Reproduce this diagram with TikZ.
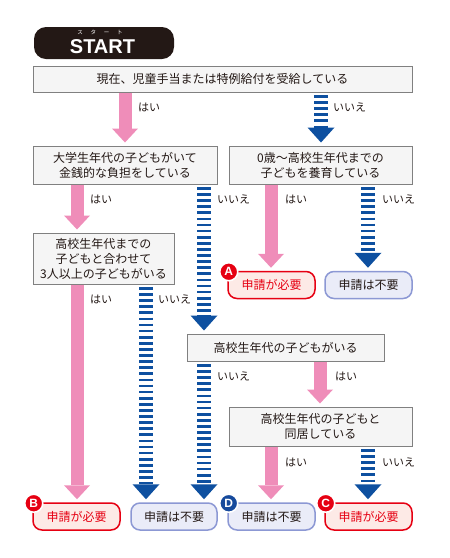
\documentclass[tikz,border=0pt]{standalone}
\usepackage{fontspec}
\setmainfont{Noto Sans CJK JP}
\newfontfamily\latinfont{Liberation Sans}
\usetikzlibrary{arrows.meta,calc}
\definecolor{pinkc}{RGB}{239,141,185}
\definecolor{bluec}{RGB}{14,80,160}
\definecolor{redc}{RGB}{230,0,18}
\definecolor{redfill}{RGB}{253,234,230}
\definecolor{lavb}{RGB}{140,152,212}
\definecolor{lavf}{RGB}{234,236,248}
\definecolor{boxb}{RGB}{128,128,128}
\definecolor{boxf}{RGB}{245,245,245}
\definecolor{txt}{RGB}{35,24,21}
\definecolor{startc}{RGB}{35,24,21}
\definecolor{badgeblue}{RGB}{22,74,156}
\tikzset{
  qbox/.style={draw=boxb, fill=boxf, line width=1pt, text=txt, align=center,
    inner sep=0pt, font=\fontsize{12}{15}\selectfont},
  needbox/.style={draw=redc, fill=redfill, line width=1.5pt, rounded corners=9pt,
    text=redc, inner sep=0pt, minimum width=87pt, minimum height=27pt,
    font=\fontsize{12}{14}\selectfont},
  notbox/.style={draw=lavb, fill=lavf, line width=1.5pt, rounded corners=9pt,
    text=txt, inner sep=0pt, minimum width=87pt, minimum height=27pt,
    font=\fontsize{12}{14}\selectfont},
  pinkarr/.style={draw=pinkc, line width=13pt, shorten >=3pt,
    -{Triangle[width=26pt,length=14pt,line width=0pt]}},
  bluearr/.style={draw=bluec, line width=13.5pt, dash pattern=on 2.7pt off 3.4pt,
    shorten <=2.5pt, shorten >=3pt,
    -{Triangle[width=27pt,length=15pt,line width=0pt]}},
  lab/.style={anchor=west, inner sep=0pt, text=txt, font=\fontsize{11}{13}\selectfont},
  badge/.style={circle, fill=#1, draw=white, line width=1.5pt, minimum size=18pt,
    inner sep=0pt, text=white, font=\latinfont\bfseries\fontsize{12}{12}\selectfont}
}
\begin{document}
\begin{tikzpicture}[x=1pt,y=-1pt]
\useasboundingbox (0,0) rectangle (450,558);
% start
\node[fill=startc, rounded corners=12pt, minimum width=140pt, minimum height=32pt, inner sep=0pt] (start) at (104,43) {};
\node[text=white, inner sep=0pt, font=\latinfont\bfseries\fontsize{20}{20}\selectfont] (startlab) at (102.5,46.3) {START};
\node[text=white, inner sep=0pt, font=\fontsize{5.5}{6}\selectfont] (ruby) at (100,32.5) {ス\hspace{7.7pt}タ\hspace{7.7pt}ー\hspace{7.7pt}ト};
% question boxes
\node[qbox, minimum width=379pt, minimum height=26pt] (q1) at (222.5,79) {現在、児童手当または特例給付を受給している};
\node[qbox, minimum width=184pt, minimum height=38pt] (q2) at (125,165) {大学生年代の子どもがいて\\金銭的な負担をしている};
\node[qbox, minimum width=183pt, minimum height=38pt] (q3) at (320.5,165) {0歳～高校生年代までの\\子どもを養育している};
\node[qbox, minimum width=141pt, minimum height=51pt] (q4) at (103.5,258.5) {高校生年代までの\\子どもと合わせて\\3人以上の子どもがいる};
\node[qbox, minimum width=197pt, minimum height=27pt] (q5) at (285.5,347.5) {高校生年代の子どもがいる};
\node[qbox, minimum width=183pt, minimum height=39pt] (q6) at (320.5,426.5) {高校生年代の子どもと\\同居している};
% results
\node[needbox] (rA) at (271.5,285) {申請が必要};
\node[notbox] (rN1) at (368.5,285) {申請は不要};
\node[needbox] (rB) at (76.5,516.5) {申請が必要};
\node[notbox, minimum width=86pt] (rN2) at (174,516.5) {申請は不要};
\node[notbox] (rD) at (271.5,516.5) {申請は不要};
\node[needbox] (rC) at (368.5,516.5) {申請が必要};
% badges
\node[badge=redc] (bA) at ($(rA.north west)+(1.5,1)$) {A};
\node[badge=redc] (bB) at ($(rB.north west)+(1.5,1)$) {B};
\node[badge=badgeblue] (bD) at ($(rD.north west)+(1.5,1)$) {D};
\node[badge=redc] (bC) at ($(rC.north west)+(1.5,1)$) {C};
% columns
\coordinate (x77) at (77,0);
\coordinate (x125) at (125,0);
\coordinate (x146) at (146,0);
\coordinate (x204) at (204,0);
\coordinate (x271) at (271,0);
\coordinate (x320) at (320,0);
\coordinate (x321) at (321,0);
\coordinate (x368) at (368,0);
% arrows
\draw[pinkarr] (q1.south -| x125) -- (q2.north -| x125);
\draw[bluearr] (q1.south -| x321) -- (q3.north -| x321);
\draw[pinkarr] (q2.south -| x77) -- (q4.north -| x77);
\draw[bluearr] (q2.south -| x204) -- (q5.north -| x204);
\draw[pinkarr] (q3.south -| x271) -- (rA.north -| x271);
\draw[bluearr] (q3.south -| x368) -- (rN1.north -| x368);
\draw[pinkarr] (q4.south -| x77) -- (rB.north -| x77);
\draw[bluearr] (q4.south -| x146) -- (rN2.north -| x146);
\draw[bluearr] (q5.south -| x204) -- (rN2.north -| x204);
\draw[pinkarr] (q5.south -| x320) -- (q6.north -| x320);
\draw[pinkarr] (q6.south -| x271) -- (rD.north -| x271);
\draw[bluearr] (q6.south -| x368) -- (rC.north -| x368);
% labels
\node[lab] (l1y) at ($(q1.south -| x125)+(13,14.5)$) {はい};
\node[lab] (l1n) at ($(q1.south -| x321)+(12,14.5)$) {いいえ};
\node[lab] (l2y) at ($(q2.south -| x77)+(13,14.5)$) {はい};
\node[lab] (l2n) at ($(q2.south -| x204)+(13,14.5)$) {いいえ};
\node[lab] (l3y) at ($(q3.south -| x271)+(14,14.5)$) {はい};
\node[lab] (l3n) at ($(q3.south -| x368)+(14,14.5)$) {いいえ};
\node[lab] (l4y) at ($(q4.south -| x77)+(13,14.5)$) {はい};
\node[lab] (l4n) at ($(q4.south -| x146)+(12,14.5)$) {いいえ};
\node[lab] (l5n) at ($(q5.south -| x204)+(13,14.5)$) {いいえ};
\node[lab] (l5y) at ($(q5.south -| x320)+(15,14.5)$) {はい};
\node[lab] (l6y) at ($(q6.south -| x271)+(14,15.5)$) {はい};
\node[lab] (l6n) at ($(q6.south -| x368)+(14,15.5)$) {いいえ};
\end{tikzpicture}
\end{document}
